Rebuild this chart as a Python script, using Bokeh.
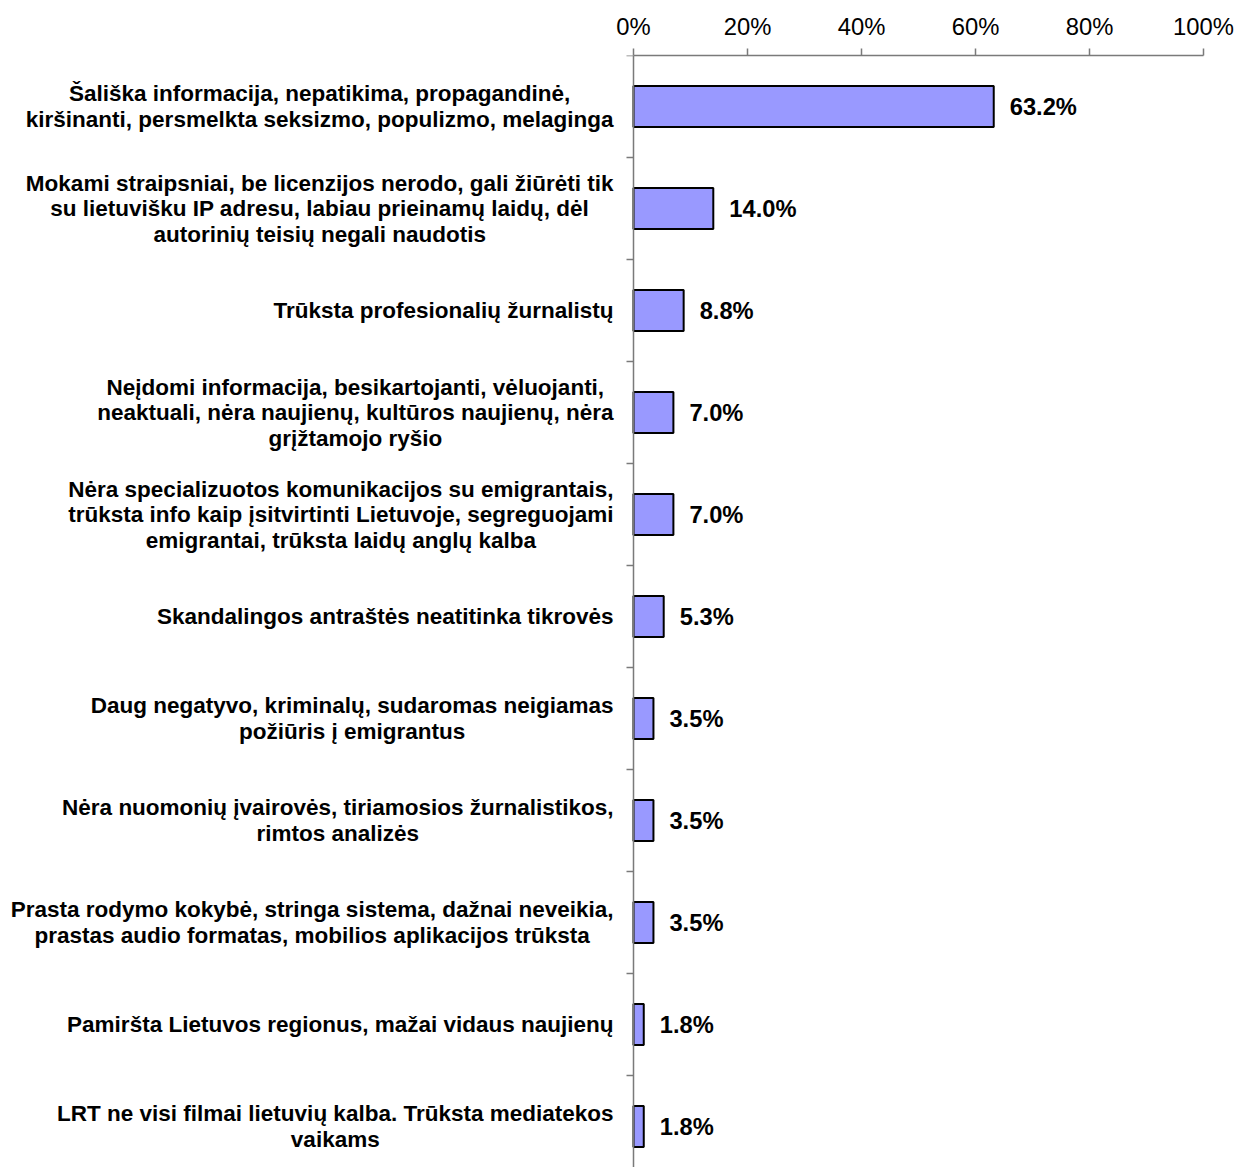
import numpy as np
from bokeh.plotting import figure
from bokeh.models import Range1d, LinearAxis, FixedTicker, PrintfTickFormatter, Span, ColumnDataSource
from bokeh.core.properties import value
from bokeh.embed import file_html
from bokeh.resources import INLINE

categories = [
    "Šališka informacija, nepatikima, propagandinė,\nkiršinanti, persmelkta seksizmo, populizmo, melaginga",
    "Mokami straipsniai, be licenzijos nerodo, gali žiūrėti tik\nsu lietuvišku IP adresu, labiau prieinamų laidų, dėl\nautorinių teisių negali naudotis",
    "Trūksta profesionalių žurnalistų",
    "Neįdomi informacija, besikartojanti, vėluojanti,\nneaktuali, nėra naujienų, kultūros naujienų, nėra\ngrįžtamojo ryšio",
    "Nėra specializuotos komunikacijos su emigrantais,\ntrūksta info kaip įsitvirtinti Lietuvoje, segreguojami\nemigrantai, trūksta laidų anglų kalba",
    "Skandalingos antraštės neatitinka tikrovės",
    "Daug negatyvo, kriminalų, sudaromas neigiamas\npožiūris į emigrantus",
    "Nėra nuomonių įvairovės, tiriamosios žurnalistikos,\nrimtos analizės",
    "Prasta rodymo kokybė, stringa sistema, dažnai neveikia,\nprastas audio formatas, mobilios aplikacijos trūksta",
    "Pamiršta Lietuvos regionus, mažai vidaus naujienų",
    "LRT ne visi filmai lietuvių kalba. Trūksta mediatekos\nvaikams",
]
values = [63.2, 14.0, 8.8, 7.0, 7.0, 5.3, 3.5, 3.5, 3.5, 1.8, 1.8]
x_ticks = [0, 20, 40, 60, 80, 100]

# layout (pixels)
W, H = 1235, 1167
top_border = 55
zero_px = 633
frame_right = 1203
right_border = W - frame_right
px_per_unit = (frame_right - zero_px) / 100.0
band_px = 102.0
frame_h = H - top_border

pos = list(range(len(categories)))
labels_txt = [f"{v:.1f}%" for v in values]
src = ColumnDataSource(dict(y=pos, v=values, cat=categories, lab=labels_txt, zero=[0] * len(pos)))

p = figure(width=W, height=H, output_backend="svg", toolbar_location=None,
           x_range=Range1d(-zero_px / px_per_unit, 100),
           y_range=Range1d(-0.5 + frame_h / band_px, -0.5),
           x_axis_location=None, y_axis_location=None,
           min_border_left=0, min_border_right=right_border,
           min_border_top=top_border, min_border_bottom=0)
p.outline_line_color = None
p.xgrid.visible = False
p.ygrid.visible = False
p.background_fill_color = "white"
p.border_fill_color = "white"

axis_gray = "#7a7a7a"

xa = LinearAxis(ticker=FixedTicker(ticks=x_ticks), formatter=PrintfTickFormatter(format="%d%%"),
                bounds=(0, 100))
xa.axis_line_color = axis_gray
xa.axis_line_width = 1.5
xa.major_tick_line_color = axis_gray
xa.major_tick_line_width = 1.5
xa.major_tick_out = 7
xa.major_tick_in = 0
xa.minor_tick_line_color = None
xa.major_label_standoff = 9
xa.major_label_text_font = "Liberation Sans"
xa.major_label_text_font_size = "23.8px"
xa.major_label_text_color = "black"
p.add_layout(xa, "above")

p.add_layout(Span(location=0, dimension="height", line_color=axis_gray, line_width=1.5))

boundaries = [i - 0.5 for i in range(len(categories) + 1)]
p.ray(x=[0] * len(boundaries), y=boundaries, length=7, length_units="screen",
      angle=np.pi, line_color=axis_gray, line_width=1.5)

p.hbar(y="y", left="zero", right="v", height=0.4, source=src,
       fill_color="#9999FF", line_color="black", line_width=2)

p.text(x="v", y="y", text="lab", source=src, x_offset=16,
       text_font=value("Liberation Sans"), text_font_style="bold",
       text_font_size="23.7px", text_baseline="middle", text_align="left", text_color="black")

p.text(x="zero", y="y", text="cat", source=src, x_offset=-20,
       anchor="center_right", text_align="center", text_baseline="middle",
       text_line_height=1.02,
       text_font=value("Liberation Sans"), text_font_style="bold",
       text_font_size="22.5px", text_color="black")

open("out.html", "w").write(file_html(p, INLINE))
